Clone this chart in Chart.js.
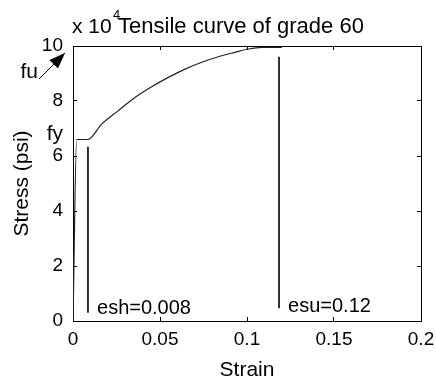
<!DOCTYPE html>
<html>
<head>
<meta charset="utf-8">
<script src="https://cdn.jsdelivr.net/npm/chart.js@4/dist/chart.umd.min.js"></script>
<style>
  html, body { margin: 0; padding: 0; background: #fff; }
</style>
</head>
<body>
<canvas id="tensileChart" width="436" height="379"></canvas>
<script>
// Tensile curve of grade 60 (strain, stress in psi)
const strain = [0, 0.0021, 0.0085, 0.0165, 0.026, 0.0356, 0.0452, 0.0548, 0.0644, 0.074, 0.0835, 0.0931, 0.1008, 0.1084, 0.12];
const stress = [0, 66000, 66000, 71600, 76500, 81300, 85200, 88600, 91600, 94100, 96100, 97700, 98900, 99500, 99500];

// marker lines at esh and esu
const eshLineX = [0.0086, 0.0086];
const eshLineY = [3000, 63400];
const esuLineX = [0.1184, 0.1184];
const esuLineY = [4600, 96100];

// axis ticks
const xTickLabels = ['0', '0.05', '0.1', '0.15', '0.2'];
const yTickLabels = ['0', '2', '4', '6', '8', '10'];

function toPoints(xs, ys) {
    return xs.map(function(x, i) { return { x: x, y: ys[i] }; });
}

const FONT = 'Arial, "Liberation Sans", sans-serif';

// shared axis look: black box, short ticks pointing inside
const boxGrid = { display: true, drawOnChartArea: false, drawTicks: true, tickLength: -4, color: '#000', lineWidth: 1 };
const boxBorder = { display: true, color: '#000', width: 1 };

function xTicks(scale) {
    scale.ticks = xTickLabels.map(function(l) { return { value: parseFloat(l) }; });
}
function yTicks(scale) {
    scale.ticks = yTickLabels.map(function(l) { return { value: parseFloat(l) * 10000 }; });
}

/**
 * Text labels and the fu arrow, MATLAB style
 */
const matlabText = {
    id: 'matlabText',
    afterDraw: function(chart) {
        const ctx = chart.ctx;
        const area = chart.chartArea;
        const xs = chart.scales.x;
        const ys = chart.scales.y;
        ctx.save();
        ctx.fillStyle = '#000';
        ctx.strokeStyle = '#000';
        ctx.textBaseline = 'alphabetic';

        // exponent label
        ctx.textAlign = 'left';
        ctx.font = '21px ' + FONT;
        ctx.fillText('x 10', area.left - 1, area.top - 13);
        ctx.font = '13px ' + FONT;
        ctx.fillText('4', area.left + 40, area.top - 27);

        // title
        ctx.textAlign = 'center';
        ctx.font = '22px ' + FONT;
        ctx.fillText('Tensile curve of grade 60', (area.left + area.right) / 2 - 6, area.top - 13);

        // fu / fy labels
        ctx.textAlign = 'right';
        ctx.font = '21px ' + FONT;
        ctx.fillText('fu', xs.getPixelForValue(-0.0201), ys.getPixelForValue(88400));
        ctx.fillText('fy', xs.getPixelForValue(-0.0057), ys.getPixelForValue(65800));

        // arrow to fu
        const x0 = xs.getPixelForValue(-0.0195), y0 = ys.getPixelForValue(88000);
        const x1 = xs.getPixelForValue(-0.0046), y1 = ys.getPixelForValue(97500);
        const ang = Math.atan2(y1 - y0, x1 - x0);
        ctx.lineWidth = 1;
        ctx.beginPath();
        ctx.moveTo(x0, y0);
        ctx.lineTo(x1, y1);
        ctx.stroke();
        ctx.beginPath();
        ctx.moveTo(x1, y1);
        ctx.lineTo(x1 - 16 * Math.cos(ang) + 6 * Math.sin(ang), y1 - 16 * Math.sin(ang) - 6 * Math.cos(ang));
        ctx.lineTo(x1 - 16 * Math.cos(ang) - 6 * Math.sin(ang), y1 - 16 * Math.sin(ang) + 6 * Math.cos(ang));
        ctx.closePath();
        ctx.fill();

        // esh / esu labels
        ctx.textAlign = 'left';
        ctx.font = '20px ' + FONT;
        ctx.fillText('esh=0.008', xs.getPixelForValue(0.0138), ys.getPixelForValue(2700));
        ctx.fillText('esu=0.12', xs.getPixelForValue(0.1236), ys.getPixelForValue(3400));

        ctx.restore();
    }
};

new Chart(document.getElementById('tensileChart'), {
    type: 'scatter',
    data: {
        datasets: [
            {
                data: toPoints(strain, stress),
                showLine: true,
                borderColor: '#222',
                borderWidth: 1.2,
                pointRadius: 0,
                cubicInterpolationMode: 'monotone'
            },
            {
                data: toPoints(eshLineX, eshLineY),
                showLine: true,
                borderColor: '#000',
                borderWidth: 1.6,
                pointRadius: 0
            },
            {
                data: toPoints(esuLineX, esuLineY),
                showLine: true,
                borderColor: '#000',
                borderWidth: 1.6,
                pointRadius: 0
            }
        ]
    },
    options: {
        responsive: false,
        animation: false,
        events: [],
        layout: {
            padding: { top: 46, right: 15, left: 0, bottom: 0 }
        },
        plugins: {
            legend: { display: false },
            tooltip: { enabled: false }
        },
        scales: {
            x: {
                type: 'linear',
                position: 'bottom',
                min: 0,
                max: 0.2,
                afterFit: function(scale) {
                    scale.height = 58;
                    scale.paddingLeft = 0;
                    scale.paddingRight = 0;
                },
                afterBuildTicks: xTicks,
                grid: boxGrid,
                border: boxBorder,
                ticks: {
                    padding: 11,
                    color: '#000',
                    font: { family: FONT, size: 19 },
                    maxRotation: 0,
                    autoSkip: false,
                    callback: function(v, i) { return xTickLabels[i]; }
                },
                title: {
                    display: true,
                    text: 'Strain',
                    color: '#000',
                    font: { family: FONT, size: 21, lineHeight: 1.0 },
                    padding: { top: 0, bottom: -2 }
                }
            },
            xTop: {
                type: 'linear',
                position: 'top',
                min: 0,
                max: 0.2,
                afterFit: function(scale) {
                    scale.height = 0;
                    scale.paddingLeft = 0;
                    scale.paddingRight = 0;
                },
                afterBuildTicks: xTicks,
                grid: boxGrid,
                border: boxBorder,
                ticks: { display: false }
            },
            y: {
                type: 'linear',
                position: 'left',
                min: 0,
                max: 100000,
                afterFit: function(scale) {
                    scale.width = 73;
                    scale.paddingTop = 0;
                    scale.paddingBottom = 0;
                },
                afterBuildTicks: yTicks,
                grid: boxGrid,
                border: boxBorder,
                ticks: {
                    padding: 14,
                    color: '#000',
                    font: { family: FONT, size: 19 },
                    autoSkip: false,
                    callback: function(v, i) { return yTickLabels[i]; }
                },
                title: {
                    display: true,
                    text: 'Stress (psi)',
                    color: '#000',
                    font: { family: FONT, size: 21, lineHeight: 1.2 },
                    padding: { top: 10, bottom: 0 }
                }
            },
            yRight: {
                type: 'linear',
                position: 'right',
                min: 0,
                max: 100000,
                afterFit: function(scale) {
                    scale.width = 0;
                    scale.paddingTop = 0;
                    scale.paddingBottom = 0;
                },
                afterBuildTicks: yTicks,
                grid: boxGrid,
                border: boxBorder,
                ticks: { display: false }
            }
        }
    },
    plugins: [matlabText]
});
</script>
</body>
</html>
